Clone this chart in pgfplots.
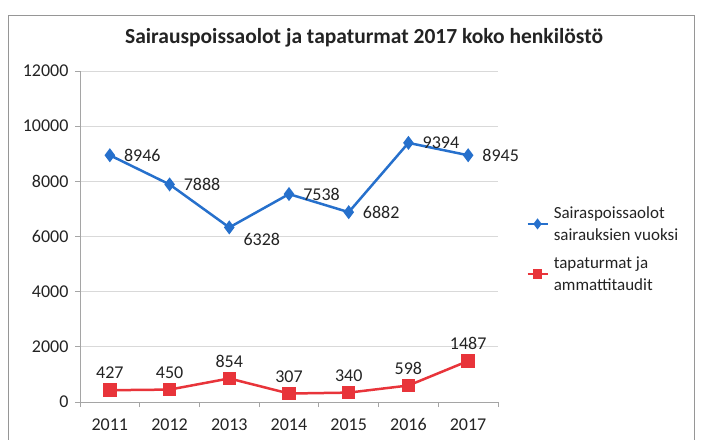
\documentclass[border=0pt]{standalone}
\usepackage{pgfplots}
\pgfplotsset{compat=1.18}
\usepackage{pgfplotstable}
\usepackage{fontspec}
\setmainfont{Carlito}

\definecolor{serblue}{RGB}{38,112,204}
\definecolor{serred}{RGB}{232,52,58}
\definecolor{gridgray}{RGB}{217,217,217}
\definecolor{axgray}{RGB}{165,165,165}
\definecolor{framegray}{RGB}{150,150,150}
\definecolor{txt}{RGB}{35,35,35}

\pgfplotsset{/pgf/number format/.cd, 1000 sep={}, assume math mode=true}

% dy = vertical shift of the data label
\pgfplotstableread{
year val dy
2011 8946 0
2012 7888 0
2013 6328 -12
2014 7538 0
2015 6882 0
2016 9394 0
2017 8945 0
}\sairaus

\pgfplotstableread{
year val
2011 427
2012 450
2013 854
2014 307
2015 340
2016 598
2017 1487
}\tapaturmat

\begin{document}
\begin{tikzpicture}[x=1pt,y=1pt]
\path[use as bounding box] (-80,-37) rectangle (624,402);
\draw[framegray, line width=1pt] (-71,-40) -- (-71,386) -- (614,386) -- (614,-40);
\node[font=\fontsize{21.5}{25}\bfseries, text=txt] at (284,364)
  {Sairauspoissaolot ja tapaturmat 2017 koko henkilöstö};
\begin{axis}[
    at={(0,0)}, anchor=south west,
    scale only axis,
    width=418pt, height=331pt,
    xmin=2010.5, xmax=2017.5,
    ymin=0, ymax=12000,
    xtick={2011,...,2017},
    ytick={0,2000,...,12000},
    minor xtick={2010.5,2011.5,...,2017.5},
    scaled y ticks=false,
    axis x line*=bottom,
    axis y line*=left,
    axis line style={axgray, line width=0.8pt},
    major x tick style={draw=none},
    minor x tick style={axgray, line width=0.8pt},
    major y tick style={axgray, line width=0.8pt},
    tick align=outside,
    major tick length=5pt,
    minor tick length=5pt,
    ymajorgrids,
    grid style={gridgray, line width=0.8pt},
    tick label style={font=\fontsize{18}{21}\selectfont, text=txt},
    xticklabel style={yshift=-8pt},
    yticklabel style={xshift=-3pt},
    legend style={at={(1.06,0.604)}, anchor=north west, draw=none, fill=none,
      font=\fontsize{17}{22}\selectfont, text=txt,
      cells={align=left, anchor=west}, row sep=11pt, column sep=3pt},
    legend image code/.code={%
      \draw[mark repeat=2, mark phase=2, #1, mark size=3.5pt]
        plot coordinates {(0pt,0pt) (10pt,0pt) (20pt,0pt)};},
    every legend image post/.append style={line width=2.5pt},
    legend cell align=left,
    clip=false,
]
\addplot[serblue, line width=2.5pt, mark=diamond*, mark size=5pt,
    mark options={solid},
    point meta=explicit,
    visualization depends on={\thisrow{dy} \as \labdy},
    nodes near coords,
    nodes near coords style={anchor=west, xshift=12pt, yshift=\labdy pt,
      font=\fontsize{18}{21}\selectfont, text=txt, inner sep=1pt}]
  table[x=year, y=val, meta=val] {\sairaus};
\addlegendentry{Sairaspoissaolot\\sairauksien vuoksi}

\addplot[serred, line width=2.5pt, mark=square*, mark size=5.5pt,
    point meta=explicit,
    nodes near coords,
    nodes near coords style={anchor=south, yshift=9pt,
      font=\fontsize{18}{21}\selectfont, text=txt, inner sep=1pt}]
  table[x=year, y=val, meta=val] {\tapaturmat};
\addlegendentry{tapaturmat ja\\ammattitaudit}
\end{axis}
\end{tikzpicture}
\end{document}
